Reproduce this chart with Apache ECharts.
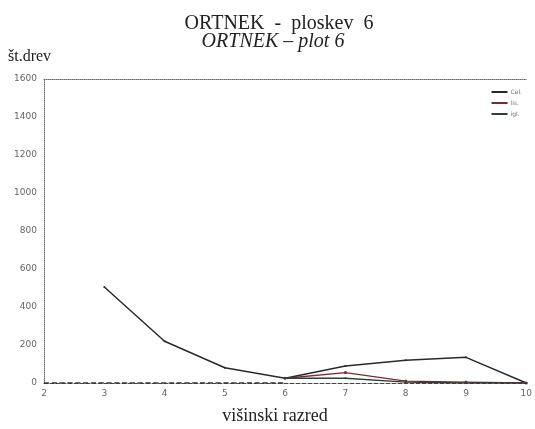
<!DOCTYPE html>
<html><head><meta charset="utf-8">
<script src="https://cdn.jsdelivr.net/npm/echarts@6/dist/echarts.min.js"></script>
<style>html,body{margin:0;padding:0;background:#fff}#c{width:535px;height:429px}</style>
</head><body><div id="c"></div>
<script>
var xValues = [3, 4, 5, 6, 7, 8, 9, 10];
var celValues = [505, 220, 80, 25, 90, 120, 135, 0];
var lisX = [6, 7, 8, 9, 10];
var lisValues = [25, 55, 10, 5, 0];
var iglX = [6, 7, 8, 9, 10];
var iglValues = [25, 25, 5, 0, 0];
var baseX = [2, 3, 4, 5, 6];
var baseValues = [0, 0, 0, 0, 0];
var legendNames = ['Cel.', 'lis.', 'igl.'];

function pairs(xs, ys){ return xs.map(function(x,i){ return [x, ys[i]]; }); }

var chart = echarts.init(document.getElementById('c'));
var tick = {color:'#666', fontSize:9, fontFamily:'DejaVu Sans', formatter:function(v){return String(v);}};
chart.setOption({
  animation:false,
  backgroundColor:'#fff',
  title:[
    {text:'ORTNEK  -  ploskev  6', left:274, textAlign:'center', top:9, textStyle:{fontFamily:'Liberation Serif', fontWeight:'normal', fontSize:20, color:'#222'}},
    {text:'ORTNEK – plot 6', left:268, textAlign:'center', top:27, textStyle:{fontFamily:'Liberation Serif', fontStyle:'italic', fontWeight:'normal', fontSize:20, color:'#222'}},
    {text:'št.drev', left:3, top:44, textStyle:{fontFamily:'Liberation Serif', fontWeight:'normal', fontSize:16, color:'#222'}},
    {text:'višinski razred', left:270, textAlign:'center', top:402, textStyle:{fontFamily:'Liberation Serif', fontWeight:'normal', fontSize:18, color:'#222'}}
  ],
  legend:{
    data:legendNames, orient:'vertical', right:8, top:84, itemWidth:16, itemHeight:2, itemGap:5,
    icon:'rect',
    textStyle:{fontSize:6, color:'#777', fontFamily:'DejaVu Sans', padding:[0,0,0,-2]}
  },
  grid:{left:44, right:4, top:79, bottom:46},
  xAxis:[{
    type:'value', min:2, max:10, interval:1,
    axisLine:{lineStyle:{color:'#444', type:'dashed', width:1}},
    axisTick:{show:false}, splitLine:{show:false},
    axisLabel:Object.assign({margin:6}, tick)
  },{
    type:'value', min:2, max:10, position:'top',
    axisLine:{show:true, lineStyle:{color:'#666', type:'dotted', width:1}},
    axisTick:{show:false}, axisLabel:{show:false}, splitLine:{show:false}
  }],
  yAxis:{
    type:'value', min:0, max:1600, interval:200,
    axisLine:{show:true, lineStyle:{color:'#666', type:'dotted', width:1}},
    axisTick:{show:false}, splitLine:{show:false},
    axisLabel:Object.assign({margin:7}, tick)
  },
  series:[
    {name:'Cel.', type:'line', data:pairs(xValues, celValues), symbol:'circle', symbolSize:2,
     lineStyle:{color:'#2a2a2a', width:1.5}, itemStyle:{color:'#2a2a2a'}},
    {name:'lis.', type:'line', data:pairs(lisX, lisValues), symbol:'circle', symbolSize:3,
     lineStyle:{color:'#7a2838', width:1.3}, itemStyle:{color:'#7a2838'}},
    {name:'igl.', type:'line', data:pairs(iglX, iglValues), symbol:'circle', symbolSize:2,
     lineStyle:{color:'#2e3f34', width:1.3}, itemStyle:{color:'#2e3f34'}},
    {name:'base', type:'line', data:pairs(baseX, baseValues), symbol:'none',
     lineStyle:{color:'#333', width:1.3, type:'dashed'}}
  ]
});
</script></body></html>
